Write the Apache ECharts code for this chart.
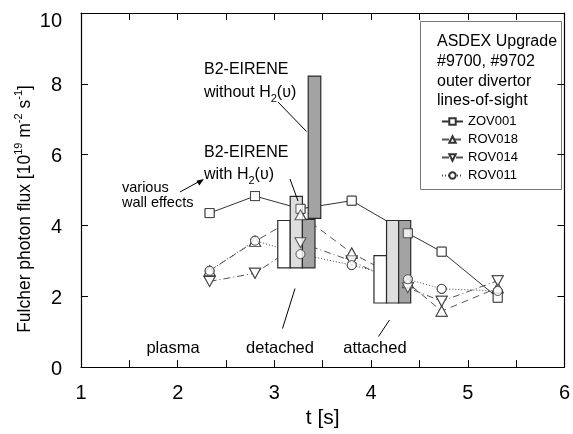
<!DOCTYPE html>
<html><head><meta charset="utf-8">
<script src="https://cdn.jsdelivr.net/npm/echarts@6/dist/echarts.min.js"></script>
<style>html,body{margin:0;padding:0;background:#fff}#c{width:573px;height:434px}</style>
</head><body><div id="c"></div><script>
// ---- data ----
const times  = [2.33, 2.80, 3.27, 3.80, 4.38, 4.73, 5.31];
const zov001 = [4.35, 4.83, 4.47, 4.70, 3.78, 3.26, 1.96];
const rov018 = [2.72, 3.55, 4.30, 3.22, 2.38, 1.58, 2.24];
const rov014 = [2.42, 2.65, 3.51, 3.00, 2.24, 1.86, 2.44];
const rov011 = [2.72, 3.57, 3.19, 2.88, 2.48, 2.21, 2.15];

// B2-EIRENE / wall-effect ranges (t from, t to, flux low, flux high, shade)
const barT0   = [3.035, 3.164, 3.290, 3.350, 4.030, 4.160, 4.285];
const barT1   = [3.164, 3.290, 3.420, 3.480, 4.160, 4.285, 4.410];
const barLow  = [2.80, 2.80, 2.80, 4.20, 1.81, 1.81, 1.81];
const barHigh = [4.14, 4.82, 4.17, 8.22, 3.15, 4.14, 4.14];
const barShade= [0, 1, 2, 2, 0, 1, 2];

const xTickLabels = [1, 2, 3, 4, 5, 6];
const yTickLabels = [0, 2, 4, 6, 8, 10];

// ---- styles ----
const F = '"Liberation Sans", Arial, Helvetica, sans-serif';
const barFills = ['#ffffff', '#dedede', '#a3a3a3'];
const seriesDefs = [
  {name:'ZOV001', vals: zov001, symbol:'rect', size:9, rot:0, dash:'solid', color:'#333'},
  {name:'ROV018', vals: rov018, symbol:'triangle', size:[11,10], rot:0, dash:[7,5], color:'#555'},
  {name:'ROV014', vals: rov014, symbol:'triangle', size:[11,10], rot:180, dash:[7,3,1,3], color:'#555'},
  {name:'ROV011', vals: rov011, symbol:'circle', size:9, rot:0, dash:[1,2], color:'#444'}
];

const chart = echarts.init(document.getElementById('c'), null, {renderer:'canvas'});

const pair = v => v.map((y,i)=>[times[i], y]);
const series = [];
seriesDefs.forEach(d => {
  series.push({
    name: d.name, type:'line', data: pair(d.vals), z: 1,
    symbol: d.symbol, symbolSize: d.size, symbolRotate: d.rot, showSymbol: true,
    lineStyle: {color: d.color, width: 1, type: d.dash},
    itemStyle: {color:'#fff', borderColor:'#333', borderWidth:1},
    emphasis:{disabled:true}, animation:false
  });
});
series.push({
  type:'custom', z: 2, animation:false,
  data: barT0.map((t,i)=>[t, barT1[i], barLow[i], barHigh[i], barShade[i]]),
  encode: {x:[0,1], y:[2,3]},
  renderItem: (params, api) => {
    const p0 = api.coord([api.value(0), api.value(3)]);
    const p1 = api.coord([api.value(1), api.value(2)]);
    return {type:'rect', shape:{x:p0[0], y:p0[1], width:p1[0]-p0[0], height:p1[1]-p0[1]},
      style:{fill: barFills[api.value(4)], stroke:'#2a2a2a', lineWidth:1.2}};
  }
});
seriesDefs.forEach(d => {
  series.push({
    type:'scatter', data: pair(d.vals), z: 3, symbol: d.symbol, symbolSize: d.size, symbolRotate: d.rot,
    itemStyle: {color:'#fff', borderColor:'#333', borderWidth:1}, emphasis:{disabled:true}, animation:false
  });
});

const axisCommon = {
  axisLine:{show:true, onZero:false, lineStyle:{color:'#000', width:1.2}},
  axisTick:{show:true, inside:true, length:7, lineStyle:{color:'#000', width:1}},
  splitLine:{show:false}
};

function txt(x, y, s, size, align, rich, rot) {
  return {type:'text', x:x, y:y, z:10, rotation: rot || 0, style:{text:s, fontSize:size, fontFamily:F, fill:'#000',
    textAlign: align || 'left', textVerticalAlign:'middle', rich: rich}};
}
function ln(x1,y1,x2,y2) {
  return {type:'line', z:10, shape:{x1,y1,x2,y2}, style:{stroke:'#000', lineWidth:1}};
}
const richH = {sub:{fontSize:11, verticalAlign:'bottom', lineHeight:22, fontFamily:F, fill:'#000'},
               n:{fontSize:16, lineHeight:22, fontFamily:F, fill:'#000'}};
const richY = {sup:{fontSize:11, verticalAlign:'top', lineHeight:24, fontFamily:F, fill:'#000'},
               n:{fontSize:17.5, lineHeight:24, fontFamily:F, fill:'#000'}};

const graphic = [
  {type:'rect', z:0, shape:{x:420.5, y:21.5, width:141, height:168}, style:{fill:'#fff', stroke:'#777', lineWidth:1}},
  txt(437, 42, 'ASDEX Upgrade', 16),
  txt(437, 62, '#9700, #9702', 16),
  txt(437, 82, 'outer divertor', 16),
  txt(437, 101, 'lines-of-sight', 16),
  txt(204, 70, 'B2-EIRENE', 16),
  txt(204, 93, '{n|without H}{sub|2}{n|(υ)}', 16, 'left', richH),
  txt(204, 153, 'B2-EIRENE', 16),
  txt(204, 175, '{n|with H}{sub|2}{n|(υ)}', 16, 'left', richH),
  txt(122, 188, 'various', 14.5),
  txt(122, 203, 'wall effects', 14.5),
  txt(173, 348, 'plasma', 16.5, 'center'),
  txt(280, 348, 'detached', 16.5, 'center'),
  txt(375, 348, 'attached', 16.5, 'center'),
  txt(25, 209, '{n|Fulcher photon flux [10}{sup|19}{n| m}{sup|-2}{n| s}{sup|-1}{n|]}', 17.5, 'center', richY, Math.PI/2),
  ln(278,102, 306.5,131.5),
  ln(290,179, 298,201),
  ln(282.5,328.5, 295,288.5),
  ln(378.5,336.5, 389.5,320),
  ln(180,192, 201,180.5),
  {type:'polygon', z:10, shape:{points:[[204,179],[196.5,180.8],[199.3,185.5]]}, style:{fill:'#000'}}
];

chart.setOption({
  animation:false,
  backgroundColor:'#fff',
  textStyle:{fontFamily:F},
  grid:{left:81, right:5, top:13, bottom:56, containLabel:false},
  xAxis:[
    Object.assign({type:'value', min:1, max:6, interval:0.5, position:'bottom',
      axisLabel:{formatter: v => xTickLabels.includes(v) ? String(v) : '', fontSize:20, color:'#000', margin:16, fontFamily:F},
      name:'t [s]', nameLocation:'middle', nameGap:20, nameTextStyle:{fontSize:21, color:'#000', fontFamily:F}}, axisCommon),
    Object.assign({type:'value', min:1, max:6, interval:0.5, position:'top', axisLabel:{show:false}}, axisCommon)
  ],
  yAxis:[
    Object.assign({type:'value', min:0, max:10, interval:2, position:'left',
      axisLabel:{formatter: v => yTickLabels.includes(v) ? (v === 10 ? '{t|10}' : '{a|' + v + '}') : '', fontSize:20, color:'#000', margin:19, fontFamily:F,
        rich:{t:{fontSize:20, padding:[16,0,0,0], fontFamily:F, color:'#000'},
              a:{fontSize:20, padding:[4,0,0,0], fontFamily:F, color:'#000'}}}}, axisCommon),
    Object.assign({type:'value', min:0, max:10, interval:2, position:'right', axisLabel:{show:false}}, axisCommon)
  ],
  legend:{data:['ZOV001','ROV018','ROV014','ROV011'], orient:'vertical', left:436, top:110,
    itemWidth:21, itemHeight:8, itemGap:5, selectedMode:false,
    textStyle:{fontSize:13, color:'#000', fontFamily:F}},
  series: series,
  graphic: graphic
});
</script></body></html>
